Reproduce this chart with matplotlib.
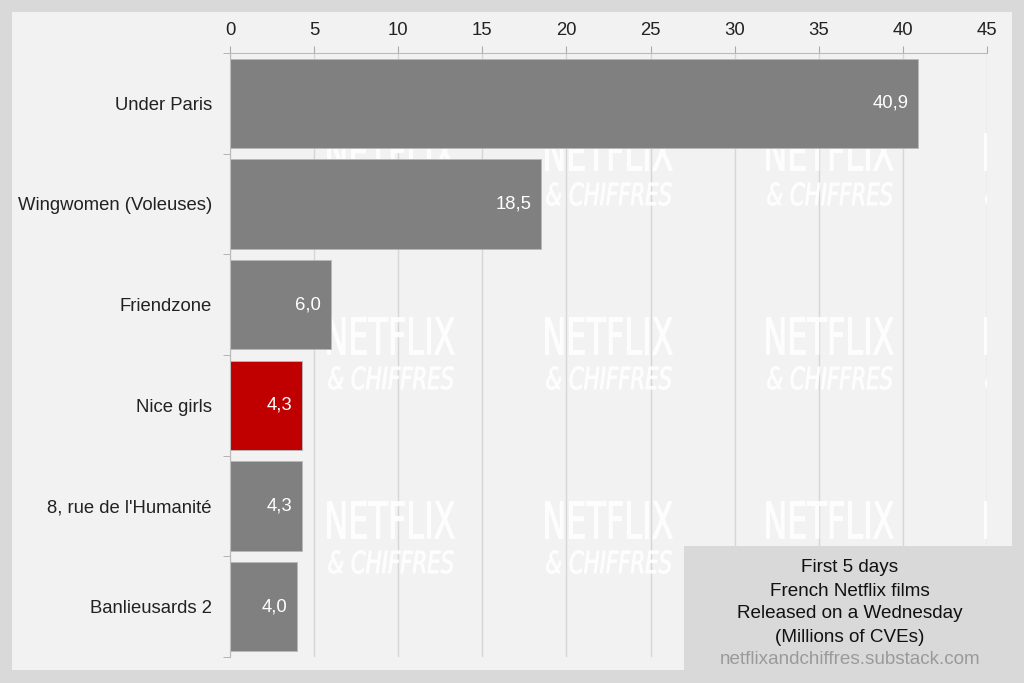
import numpy as np
import matplotlib
matplotlib.use("Agg")
import matplotlib.pyplot as plt
from matplotlib.patches import Rectangle, PathPatch
from matplotlib.textpath import TextPath
from matplotlib.font_manager import FontProperties
from matplotlib.transforms import Affine2D

films = ["Under Paris", "Wingwomen (Voleuses)", "Friendzone", "Nice girls",
         "8, rue de l'Humanité", "Banlieusards 2"]
views = [40.9, 18.5, 6.0, 4.3, 4.3, 4.0]
colors = ["#808080", "#808080", "#808080", "#c00000", "#808080", "#808080"]
xticks = [0, 5, 10, 15, 20, 25, 30, 35, 40, 45]
note = ["First 5 days", "French Netflix films", "Released on a Wednesday", "(Millions of CVEs)"]
site = "netflixandchiffres.substack.com"

plt.rcParams['font.family'] = ['Liberation Sans', 'DejaVu Sans']
FS = 13.3

W, H = 1024, 683
fig = plt.figure(figsize=(W / 100, H / 100), dpi=100, facecolor="#d9d9d9")

# inner light panel
fig.add_artist(Rectangle((12 / W, 13 / H), 1000 / W, 658 / H, transform=fig.transFigure,
                         facecolor="#f2f2f2", edgecolor="none", zorder=0))

ax = fig.add_axes([230 / W, (H - 657) / H, (987 - 230) / W, (657 - 53) / H])
ax.set_facecolor("none")

y = np.arange(len(films))
bars = ax.barh(y, views, height=0.89, color=colors, edgecolor="#b8b8b8", linewidth=0.6, zorder=2)
for b, v in zip(bars, views):
    ax.annotate(f"{v:.1f}".replace(".", ","), (b.get_width(), b.get_y() + b.get_height() / 2),
                xytext=(-7, 0), textcoords="offset points", ha="right", va="center",
                color="white", fontsize=FS, zorder=3)

ax.set_xlim(0, 45)
ax.set_ylim(len(films) - 0.5, -0.5)
ax.set_autoscale_on(False)
ax.xaxis.tick_top()
ax.set_xticks(xticks)
ax.tick_params(axis="x", length=5, color="#aaaaaa", labelsize=FS, pad=5, labelcolor="#222222")
ax.set_yticks(y)
ax.set_yticklabels(films)
ax.set_yticks(np.arange(len(films) + 1) - 0.5, minor=True)
ax.tick_params(axis="y", which="major", length=0, pad=13, labelsize=FS, labelcolor="#222222")
ax.tick_params(axis="y", which="minor", length=5, color="#aaaaaa")
ax.grid(axis="x", color="#d6d6d6", linewidth=1)
ax.set_axisbelow(True)
for s in ["right", "bottom"]:
    ax.spines[s].set_visible(False)
for s in ["left", "top"]:
    ax.spines[s].set_color("#bbbbbb")


# watermark
def mark(text, cx, cy, w, h, italic):
    fp = FontProperties(family="DejaVu Sans", weight="normal", style="italic" if italic else "normal")
    tp = TextPath((0, 0), text, size=100, prop=fp)
    ext = tp.get_extents()
    tr = (Affine2D().translate(-ext.x0 - ext.width / 2, -ext.y0 - ext.height / 2)
          .scale(w / ext.width, h / ext.height).translate(cx, H - cy))
    p = PathPatch(tp, transform=tr, facecolor="white", edgecolor="white", linewidth=0.6,
                  alpha=0.9, zorder=1)
    ax.add_patch(p)
    p.set_clip_path(ax.patch)


for cx in [391, 609, 830, 1048]:
    for cy in [152, 336, 520]:
        mark("NETFLIX", cx, cy, 127, 37, False)
        mark("& CHIFFRES", cx, cy + 42, 125, 23, True)

# note box
fig.add_artist(Rectangle((684 / W, 0), (W - 684) / W, (H - 546) / H, transform=fig.transFigure,
                         facecolor="#d9d9d9", edgecolor="none", zorder=5))
for i, line in enumerate(note):
    fig.text(850 / W, (H - 568 - i * 23) / H, line, ha="center", va="center",
             fontsize=FS + 0.3, color="#111111", zorder=6)
fig.text(850 / W, (H - 659) / H, site, ha="center", va="center",
         fontsize=FS + 0.3, color="#9a9a9a", zorder=6)

fig.savefig("out.png", dpi=100, facecolor=fig.get_facecolor())
